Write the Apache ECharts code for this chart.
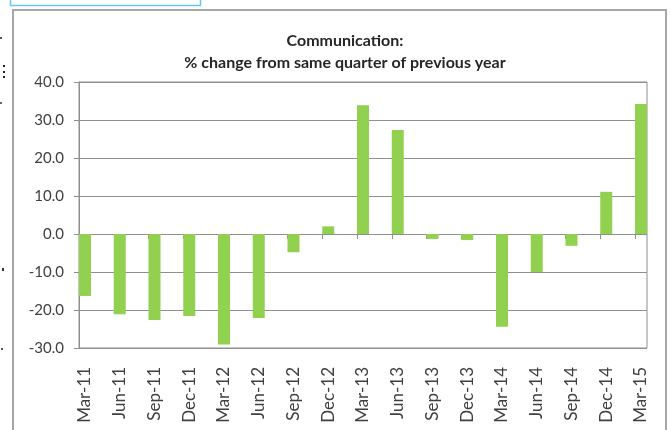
<!DOCTYPE html>
<html>
<head>
<meta charset="utf-8">
<script src="https://cdn.jsdelivr.net/npm/echarts@6/dist/echarts.min.js"></script>
<style>
  html, body { margin: 0; padding: 0; background: #ffffff; }
  #chart { width: 671px; height: 430px; }
</style>
</head>
<body>
<div id="chart"></div>
<script>
// Quarterly communication output, % change on the same quarter a year earlier
const categories = [
  'Mar-11', 'Jun-11', 'Sep-11', 'Dec-11',
  'Mar-12', 'Jun-12', 'Sep-12', 'Dec-12',
  'Mar-13', 'Jun-13', 'Sep-13', 'Dec-13',
  'Mar-14', 'Jun-14', 'Sep-14', 'Dec-14',
  'Mar-15'
];
const pctChange = [
  -16.3, -21.1, -22.6, -21.6,
  -29.1, -22.1, -4.8, 2.0,
  33.9, 27.4, -1.3, -1.6,
  -24.4, -10.0, -3.1, 11.1,
  34.2
];
const yMin = -30;
const yMax = 40;
const yStep = 10;

const titleLines = ['Communication:', '% change from same quarter of previous year'];

const FONT = 'Lato, "Noto Sans", sans-serif';
const GRID_GREY = '#8f8f8f';
const LABEL_GREY = '#404040';

const chart = echarts.init(document.getElementById('chart'), null, { renderer: 'canvas' });

const plotTop = 82, plotHeight = 266;

const valueAxis = (gridIndex, visible) => ({
  type: 'value', gridIndex, min: yMin, max: yMax, interval: yStep,
  show: visible,
  axisLine: { show: true, lineStyle: { color: GRID_GREY, width: 1 } },
  axisTick: { show: true, length: 5, lineStyle: { color: GRID_GREY } },
  splitLine: { show: true, lineStyle: { color: GRID_GREY, width: 1 } },
  axisLabel: {
    margin: 15, color: LABEL_GREY, fontFamily: FONT, fontSize: 15,
    formatter: v => v.toFixed(1)
  }
});

chart.setOption({
  animation: false,
  backgroundColor: '#ffffff',
  title: {
    text: titleLines.join('\n'),
    left: 340, top: 25, textAlign: 'center',
    textStyle: { fontFamily: FONT, fontSize: 16, fontWeight: 'bold', color: '#262626', lineHeight: 22 }
  },
  grid: [
    // bars: first and last bar sit flush with the frame
    { left: 85, top: plotTop, width: 556, height: plotHeight },
    // frame, value axis and gridlines
    { left: 79, top: plotTop, width: 568, height: plotHeight, show: true,
      borderColor: GRID_GREY, borderWidth: 1, backgroundColor: 'transparent' },
    // tick marks along the zero line, at the left edge of each bar
    { left: 79, top: plotTop, width: 556, height: plotHeight }
  ],
  xAxis: [
    {
      type: 'category', gridIndex: 0, data: categories, boundaryGap: false,
      position: 'bottom',
      axisLine: { show: false, onZero: false },
      axisTick: { show: false },
      splitLine: { show: false },
      axisLabel: {
        rotate: 90, margin: 19, interval: 0,
        color: LABEL_GREY, fontFamily: FONT, fontSize: 17
      }
    },
    { type: 'value', gridIndex: 1, show: false, min: 0, max: 1 },
    {
      type: 'category', gridIndex: 2, data: categories, boundaryGap: false,
      axisLine: { show: true, onZero: true, lineStyle: { color: GRID_GREY } },
      axisTick: { show: true, inside: false, length: 5, interval: 0, lineStyle: { color: GRID_GREY } },
      axisLabel: { show: false },
      splitLine: { show: false }
    }
  ],
  yAxis: [
    valueAxis(0, false),
    valueAxis(1, true),
    valueAxis(2, false)
  ],
  series: [
    {
      type: 'bar', xAxisIndex: 0, yAxisIndex: 0,
      data: pctChange, barWidth: 12,
      itemStyle: { color: '#92d050' },
      silent: true
    }
  ],
  graphic: [
    // outer chart frame
    { type: 'rect', shape: { x: 13, y: 10, width: 653, height: 440 },
      style: { fill: 'none', stroke: '#a6a6a6', lineWidth: 2 }, z: 10 },
    // selection box above the chart
    { type: 'rect', shape: { x: 10.5, y: -4, width: 190, height: 9.5 },
      style: { fill: 'none', stroke: '#6cc6f2', lineWidth: 1.5 }, z: 10 },
    // text fragments at the left page margin
    { type: 'rect', shape: { x: 0, y: 37, width: 2, height: 2 }, style: { fill: '#555' } },
    { type: 'rect', shape: { x: 3, y: 65, width: 2, height: 2 }, style: { fill: '#222' } },
    { type: 'rect', shape: { x: 3, y: 71, width: 2, height: 2 }, style: { fill: '#222' } },
    { type: 'rect', shape: { x: 3, y: 76, width: 2, height: 2 }, style: { fill: '#222' } },
    { type: 'rect', shape: { x: 0, y: 102, width: 2, height: 2 }, style: { fill: '#666' } },
    { type: 'rect', shape: { x: 2, y: 268, width: 2, height: 3 }, style: { fill: '#333' } },
    { type: 'rect', shape: { x: 1, y: 348, width: 2, height: 2 }, style: { fill: '#555' } }
  ]
});
</script>
</body>
</html>
